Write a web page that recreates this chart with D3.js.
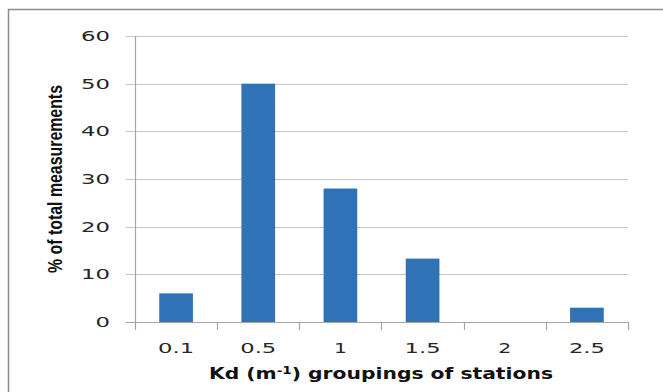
<!DOCTYPE html>
<html>
<head>
<meta charset="utf-8">
<script src="https://cdn.jsdelivr.net/npm/d3@7"></script>
<style>
  body { margin: 0; background: #fff; }
  svg { display: block; }
</style>
</head>
<body>
<div id="chart"></div>
<script>
const categories = ["0.1", "0.5", "1", "1.5", "2", "2.5"]
const values = [6, 50, 28, 13.3, 0, 3]
const yTicks = [0, 10, 20, 30, 40, 50, 60]

const w = 663
const h = 392
const marg = { left: 135, right: 35, top: 36, bottom: 70 }

const svg = d3.select('#chart')
    .append('svg')
    .attr('width', w)
    .attr('height', h)

// outer frame (only top and left visible in the picture)
svg.append('path')
    .attr('d', `M8.5,${h} V9.5 H${w}`)
    .attr('fill', 'none')
    .attr('stroke', '#8c8c8c')
    .attr('stroke-width', 1.5)

const xScale = d3.scaleBand()
    .domain(categories)
    .range([marg.left, w - marg.right])
    .paddingInner(0.59)
    .paddingOuter(0.295)

const yScale = d3.scaleLinear()
    .domain([0, 60])
    .range([h - marg.bottom, marg.top])

// gridlines
svg.append('g')
    .selectAll('line')
    .data(yTicks)
    .enter()
    .append('line')
    .attr('x1', marg.left - 9)
    .attr('x2', w - marg.right)
    .attr('y1', d => Math.round(yScale(d)) + 0.5)
    .attr('y2', d => Math.round(yScale(d)) + 0.5)
    .attr('stroke', d => d === 0 ? '#a6a6a6' : '#c4c4c4')
    .attr('stroke-width', 1.2)

// bars
svg.append('g')
    .selectAll('rect')
    .data(values)
    .enter()
    .append('rect')
    .attr('x', (d, i) => xScale(categories[i]))
    .attr('y', d => yScale(d))
    .attr('width', xScale.bandwidth())
    .attr('height', d => yScale(0) - yScale(d))
    .attr('fill', '#2f72b5')

// y axis line
svg.append('line')
    .attr('x1', marg.left + 0.5)
    .attr('x2', marg.left + 0.5)
    .attr('y1', yScale(60))
    .attr('y2', yScale(0))
    .attr('stroke', '#a6a6a6')
    .attr('stroke-width', 1.2)

// x ticks at band edges
const edges = categories.map(c => xScale(c) - xScale.step() * xScale.paddingInner() / 2)
edges.push(w - marg.right)
edges[0] = marg.left
svg.append('g')
    .selectAll('line')
    .data(edges)
    .enter()
    .append('line')
    .attr('x1', d => Math.round(d) + 0.5)
    .attr('x2', d => Math.round(d) + 0.5)
    .attr('y1', yScale(0))
    .attr('y2', yScale(0) + 8)
    .attr('stroke', '#a6a6a6')
    .attr('stroke-width', 1.2)

// y tick labels
svg.append('g')
    .selectAll('text')
    .data(yTicks)
    .enter()
    .append('text')
    .attr('x', 110)
    .attr('y', d => yScale(d) + 5)
    .attr('text-anchor', 'end')
    .attr('font-family', 'DejaVu Sans')
    .attr('font-size', 14)
    .attr('fill', '#262626')
    .attr('textLength', d => String(d).length * 14.5)
    .attr('lengthAdjust', 'spacingAndGlyphs')
    .text(d => d)

// x tick labels
svg.append('g')
    .selectAll('text')
    .data(categories)
    .enter()
    .append('text')
    .attr('x', d => xScale(d) + xScale.bandwidth() / 2)
    .attr('y', 353)
    .attr('text-anchor', 'middle')
    .attr('font-family', 'DejaVu Sans')
    .attr('font-size', 14)
    .attr('fill', '#262626')
    .attr('textLength', d => d.length === 1 ? 13 : 36)
    .attr('lengthAdjust', 'spacingAndGlyphs')
    .text(d => d)

// x axis title
const xt = svg.append('text')
    .attr('x', 381)
    .attr('y', 379)
    .attr('text-anchor', 'middle')
    .attr('font-family', 'DejaVu Sans')
    .attr('font-weight', 'bold')
    .attr('font-size', 15)
    .attr('fill', '#111')
    .attr('textLength', 344)
    .attr('lengthAdjust', 'spacingAndGlyphs')
xt.append('tspan').text('Kd (m')
xt.append('tspan').attr('font-size', 10).attr('dy', -5).text('-1')
xt.append('tspan').attr('dy', 5).text(') groupings of stations')

// y axis title
svg.append('text')
    .attr('transform', 'translate(62,179) rotate(-90)')
    .attr('text-anchor', 'middle')
    .attr('font-family', 'Liberation Sans')
    .attr('font-weight', 'bold')
    .attr('font-size', 21)
    .attr('fill', '#111')
    .attr('textLength', 188)
    .attr('lengthAdjust', 'spacingAndGlyphs')
    .text('% of total measurements')
</script>
</body>
</html>
